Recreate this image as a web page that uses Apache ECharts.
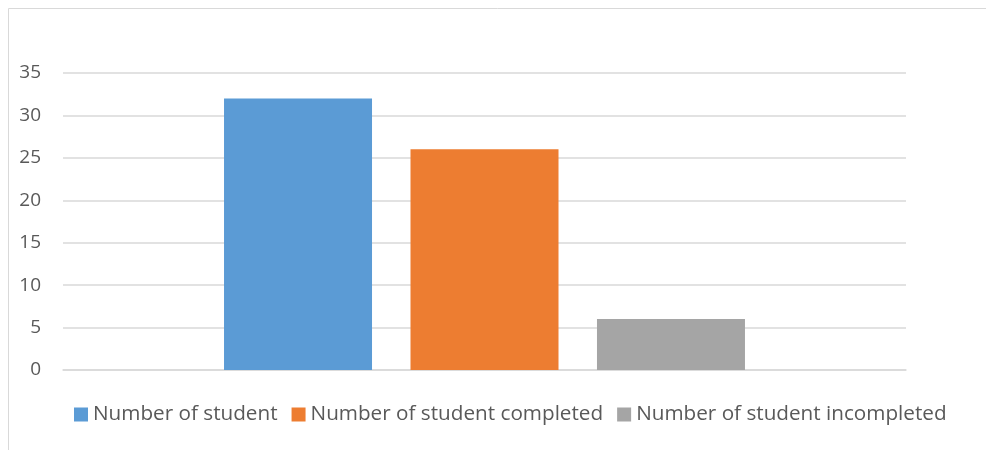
<!DOCTYPE html>
<html><head><meta charset="utf-8">
<script src="https://cdn.jsdelivr.net/npm/echarts@6/dist/echarts.min.js"></script>
<style>html,body{margin:0;padding:0;background:#fff}#c{width:986px;height:450px}</style>
</head><body><div id="c"></div>
<script>
const categories = [''];
const seriesNames = ['Number of student', 'Number of student completed', 'Number of student incompleted'];
const seriesValues = [[32], [26], [6]];
const colors = ['#5b9bd5', '#ed7d31', '#a5a5a5'];
const yTicks = { min: 0, max: 35, interval: 5 };

const chart = echarts.init(document.getElementById('c'));
chart.setOption({
  animation: false,
  graphic: [{ type: 'rect', shape: { x: 8.5, y: 8.5, width: 1200, height: 600 }, style: { fill: 'none', stroke: '#d9d9d9', lineWidth: 1 }, z: -1 }],
  grid: { left: 63, right: 80, top: 73, bottom: 80, containLabel: false },
  legend: {
    top: 399, left: 69, itemWidth: 14, itemHeight: 14, itemGap: 14,
    icon: 'rect',
    textStyle: { color: '#595959', fontSize: 20.7, fontFamily: 'Open Sans', padding: [0, 0, 0, 0] },
    data: seriesNames
  },
  xAxis: { type: 'category', data: categories, axisLine: { lineStyle: { color: '#d9d9d9', width: 1.5 } }, axisTick: { show: false }, axisLabel: { show: false } },
  yAxis: {
    type: 'value', min: yTicks.min, max: yTicks.max, interval: yTicks.interval,
    axisLine: { show: false }, axisTick: { show: false },
    axisLabel: { color: '#595959', fontSize: 19, fontFamily: 'Open Sans', margin: 22 },
    splitLine: { lineStyle: { color: '#d9d9d9', width: 1.5 } }
  },
  series: seriesNames.map((n, i) => ({
    name: n, type: 'bar', data: seriesValues[i], barWidth: 148, barGap: '26%',
    itemStyle: { color: colors[i] }
  }))
});
</script></body></html>
